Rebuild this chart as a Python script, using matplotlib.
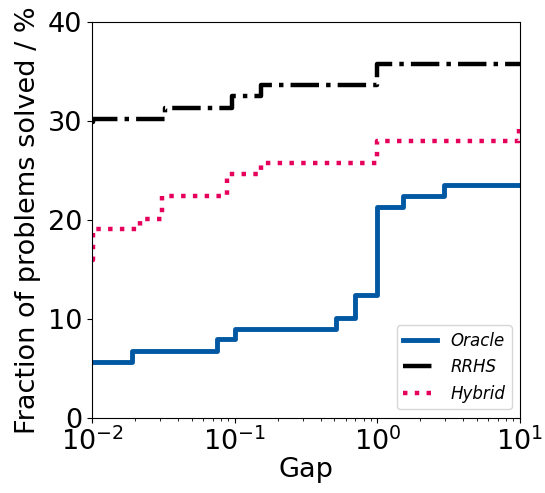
"""
Performance profile: fraction of problems solved vs gap
"""

import matplotlib
matplotlib.use("Agg")
import matplotlib.pyplot as plt

# step data (gap, fraction in %)
oracle_gap = [0.01, 0.0191, 0.0747, 0.1, 0.51, 0.70, 1.0, 1.52, 2.92, 10.0]
oracle_val = [5.6, 6.75, 7.9, 9.0, 10.1, 12.4, 21.3, 22.4, 23.55, 23.55]

rrhs_gap = [0.01, 0.0101, 0.0325, 0.0955, 0.152, 1.0, 10.0]
rrhs_val = [29.9, 30.2, 31.35, 32.5, 33.6, 35.8, 35.8]

hybrid_gap = [0.01, 0.0102, 0.0217, 0.0308, 0.0889, 0.153, 1.0, 9.8, 10.0]
hybrid_val = [15.9, 19.05, 20.1, 22.4, 24.65, 25.75, 28.0, 29.3, 29.3]

fig = plt.figure(figsize=(5.45, 4.93), dpi=100)
ax = fig.add_axes([0.169, 0.153, 0.785, 0.802])

ax.step(oracle_gap, oracle_val, where="post", color="#0058a3", lw=3.5,
        label="Oracle")
ax.step(rrhs_gap, rrhs_val, where="post", color="black", lw=3.2,
        linestyle="-.", label="RRHS")
ax.step(hybrid_gap, hybrid_val, where="post", color="#e6005c", lw=3.2,
        linestyle=":", label="Hybrid")

ax.set_xscale("log")
ax.set_xlim(1e-2, 1e1)
ax.set_ylim(0, 40)
ax.set_yticks([0, 10, 20, 30, 40])
ax.tick_params(labelsize=19.5)
ax.set_xlabel("Gap", fontsize=19.5, labelpad=1)
ax.set_ylabel("Fraction of problems solved / %", fontsize=19.5, labelpad=5)

leg = ax.legend(loc="lower right", prop={"style": "italic", "size": 12})

fig.savefig("out.png", dpi=100)
